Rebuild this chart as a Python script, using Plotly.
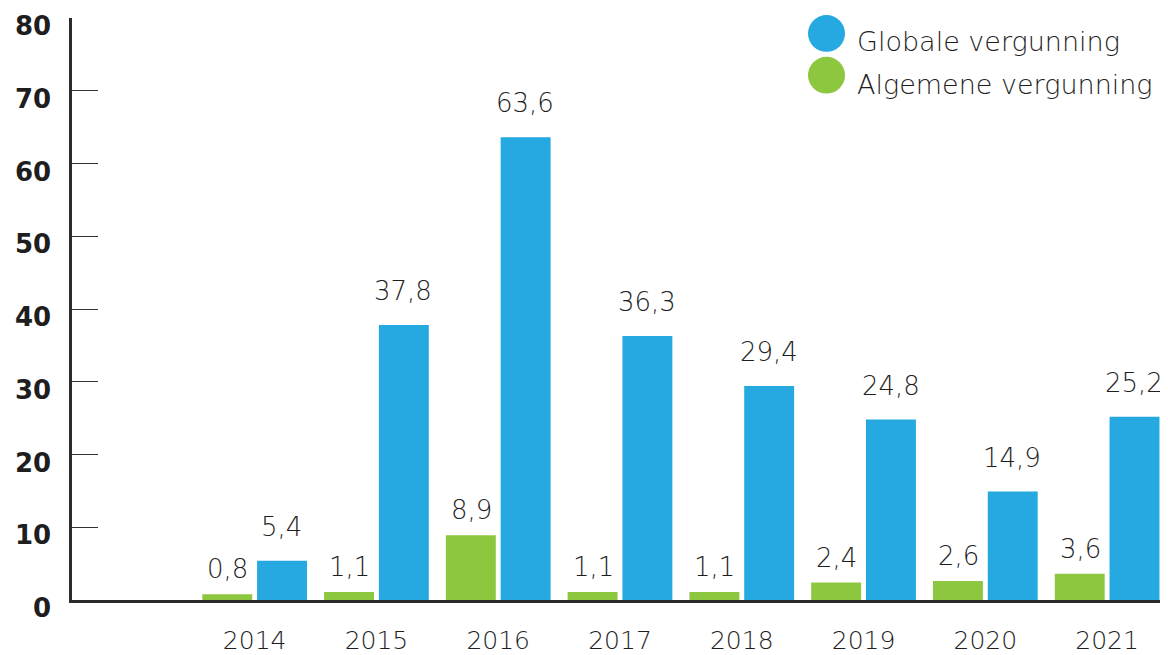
import plotly.graph_objects as go

years = ["2014", "2015", "2016", "2017", "2018", "2019", "2020", "2021"]
globale = [5.4, 37.8, 63.6, 36.3, 29.4, 24.8, 14.9, 25.2]
algemene = [0.8, 1.1, 8.9, 1.1, 1.1, 2.4, 2.6, 3.6]
y_ticks = [0, 10, 20, 30, 40, 50, 60, 70, 80]

BLUE = "#25A9E0"
GREEN = "#8DC63F"
TXT = "#1e1e1e"
FONT = "DejaVu Sans"

def fmt(v):
    return f"{v:.1f}".replace(".", ",")

fig = go.Figure()
fig.add_trace(go.Bar(x=years, y=algemene, name="Algemene vergunning",
                     marker=dict(color=GREEN, line=dict(width=0)),
                     width=0.41, offset=-0.43, showlegend=False))
fig.add_trace(go.Bar(x=years, y=globale, name="Globale vergunning",
                     marker=dict(color=BLUE, line=dict(width=0)),
                     width=0.41, offset=0.02, showlegend=False))

annotations = []
for i, v in enumerate(algemene):
    annotations.append(dict(x=i, y=v, text=fmt(v), showarrow=False, xref="x", yref="y",
                            xshift=-27, yshift=25, yanchor="middle",
                            font=dict(family=FONT, size=26, color=TXT, weight=300)))
for i, v in enumerate(globale):
    annotations.append(dict(x=i, y=v, text=fmt(v), showarrow=False, xref="x", yref="y",
                            xshift=27, yshift=34, yanchor="middle",
                            font=dict(family=FONT, size=26, color=TXT, weight=300)))

# y tick labels (drawn slightly below their ticks, as in the reference)
for t in y_ticks:
    annotations.append(dict(x=0, y=t, xref="paper", yref="y", text=str(t), showarrow=False,
                            xanchor="right", yanchor="middle", xshift=-19, yshift=-8,
                            font=dict(family=FONT, size=26, color=TXT, weight="bold")))

# page body has an ~8px margin; plot area kept at reference pixels
OFF = 8
L, T, PW, PH = 72 - OFF, 18 - OFF, 1096, 585
def px(x):
    return (x - 72) / PW
def py(y):
    return (603 - y) / PH

shapes = [
    dict(type="circle", xref="paper", yref="paper", x0=px(808), x1=px(845), y0=py(52), y1=py(15),
         fillcolor=BLUE, line=dict(width=0)),
    dict(type="circle", xref="paper", yref="paper", x0=px(808), x1=px(845), y0=py(94), y1=py(57),
         fillcolor=GREEN, line=dict(width=0)),
]
annotations.append(dict(x=px(855), y=py(42), xref="paper", yref="paper", text="Globale vergunning",
                        showarrow=False, xanchor="left", yanchor="middle",
                        font=dict(family=FONT, size=27, color=TXT, weight=300)))
annotations.append(dict(x=px(855), y=py(85), xref="paper", yref="paper", text="Algemene vergunning",
                        showarrow=False, xanchor="left", yanchor="middle",
                        font=dict(family=FONT, size=27, color=TXT, weight=300)))

fig.update_layout(
    width=1168 - OFF, height=655 - OFF,
    margin=dict(l=L, r=0, t=T, b=655 - OFF - T - PH),
    paper_bgcolor="white", plot_bgcolor="white",
    showlegend=False,
    annotations=annotations,
    shapes=shapes,
    xaxis=dict(type="category", categoryorder="array", categoryarray=years,
               range=[-1.5, 7.5], showline=True, linewidth=3, linecolor="#2b2b2b",
               ticks="", showgrid=False, zeroline=False, ticklabelstandoff=16,
               tickfont=dict(family=FONT, size=25, color=TXT, weight=300)),
    yaxis=dict(range=[0, 80], tickvals=y_ticks, showline=True, linewidth=2.5,
               linecolor="#2b2b2b", ticks="inside", ticklen=26, tickwidth=1.2,
               tickcolor="#333", showgrid=False, zeroline=False, showticklabels=False),
)

fig.write_html("out.html")
